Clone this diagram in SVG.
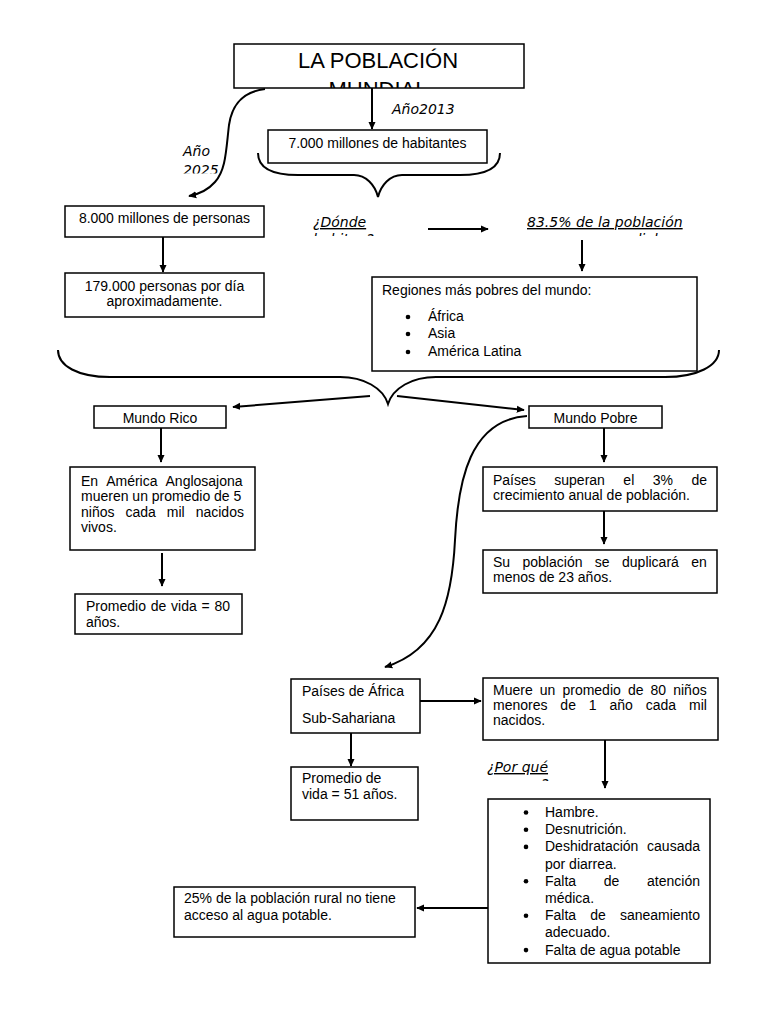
<svg xmlns="http://www.w3.org/2000/svg" width="768" height="1024" viewBox="0 0 768 1024">
<style>
.box{fill:#fff;stroke:#000;stroke-width:1.5}
.t{font-family:"Liberation Sans",Arial,sans-serif;font-size:14px;fill:#000}
.c{text-anchor:middle}
.i{font-family:"DejaVu Sans",sans-serif;font-style:italic;font-size:14px;fill:#000}
.u{text-decoration:underline}
.ln{fill:none;stroke:#000;stroke-width:2}
.br{fill:none;stroke:#000;stroke-width:2}
</style>
<defs>
<marker id="ah" viewBox="0 0 10 10" refX="9" refY="5" markerWidth="8" markerHeight="8" markerUnits="userSpaceOnUse" orient="auto">
<path d="M0,0.5 L10,5 L0,9.5 z" fill="#000"/>
</marker>
<clipPath id="cpTitle"><rect x="234" y="44" width="290" height="44"/></clipPath>
<clipPath id="cp2025"><rect x="170" y="140" width="60" height="33.5"/></clipPath>
<clipPath id="cpDonde"><rect x="300" y="210" width="130" height="26"/></clipPath>
<clipPath id="cpMundial"><rect x="520" y="210" width="180" height="26"/></clipPath>
<clipPath id="cpPorque"><rect x="480" y="755" width="80" height="26"/></clipPath>
</defs>

<g id="connectors">
<line class="ln" x1="372" y1="88" x2="372" y2="129" marker-end="url(#ah)"/>
<path class="ln" d="M265,89 C242,92 232,105 229,125 C226,150 226,170 215,182 C208,190 200,194 189,196" marker-end="url(#ah)"/>
<line class="ln" x1="163" y1="237" x2="163" y2="272" marker-end="url(#ah)"/>
<line class="ln" x1="428" y1="229" x2="488" y2="229" marker-end="url(#ah)"/>
<line class="ln" x1="582" y1="240" x2="582" y2="271" marker-end="url(#ah)"/>
<line class="ln" x1="370" y1="396" x2="233" y2="407" marker-end="url(#ah)"/>
<line class="ln" x1="397" y1="396" x2="524" y2="410" marker-end="url(#ah)"/>
<line class="ln" x1="161" y1="428" x2="161" y2="462" marker-end="url(#ah)"/>
<line class="ln" x1="162" y1="553" x2="162" y2="586" marker-end="url(#ah)"/>
<line class="ln" x1="604" y1="428" x2="604" y2="462" marker-end="url(#ah)"/>
<line class="ln" x1="604" y1="511" x2="604" y2="544" marker-end="url(#ah)"/>
<path class="ln" d="M527,416 C470,420 458,480 455,540 C452,600 440,650 385,667" marker-end="url(#ah)"/>
<line class="ln" x1="420" y1="701" x2="481" y2="701" marker-end="url(#ah)"/>
<line class="ln" x1="351" y1="733" x2="351" y2="766" marker-end="url(#ah)"/>
<line class="ln" x1="605" y1="740" x2="605" y2="788" marker-end="url(#ah)"/>
<line class="ln" x1="488" y1="908" x2="417" y2="908" marker-end="url(#ah)"/>
<path class="br" d="M258,153 C258,168 272,175 298,175 L354,175 C366,175 375,185 378,197 C381,185 390,175 402,175 L460,175 C486,175 500,168 500,153"/>
<path class="br" d="M58,350 C58,366 78,377 110,377 L340,377 C364,377 383,388 388,404 C393,388 412,377 436,377 L665,377 C697,377 719,366 719,350"/>
</g>

<g id="n-title">
<rect class="box" x="234" y="44" width="290" height="44"/>
<g clip-path="url(#cpTitle)">
<text class="t c" x="378" y="68" style="font-size:22px">LA POBLACIÓN</text>
<text class="t c" x="378" y="97" style="font-size:22px">MUNDIAL</text>
</g>
</g>

<g id="l-2013"><text class="i" x="392" y="114">Año2013</text></g>

<g id="n-7000">
<rect class="box" x="268" y="130" width="219" height="33"/>
<text class="t c" x="377.5" y="148">7.000 millones de habitantes</text>
</g>

<g id="l-2025">
<g clip-path="url(#cp2025)">
<text class="i" x="183" y="156">Año</text>
<text class="i" x="183" y="175">2025</text>
</g>
</g>

<g id="n-8000">
<rect class="box" x="65" y="206" width="199" height="31"/>
<text class="t c" x="164.5" y="223">8.000 millones de personas</text>
</g>

<g id="n-179">
<rect class="box" x="65" y="273" width="199" height="44"/>
<text class="t c" x="164.5" y="291">179.000 personas por día</text>
<text class="t c" x="164.5" y="306">aproximadamente.</text>
</g>

<g id="l-donde">
<g clip-path="url(#cpDonde)">
<text class="i u" x="313" y="227">¿Dónde </text>
<text class="i u" x="313" y="244">habitan?</text>
</g>
</g>

<g id="l-835">
<g clip-path="url(#cpMundial)">
<text class="i u" x="527" y="227">83.5% de la población</text>
<text class="i u" x="601" y="244">mundial</text>
</g>
</g>

<g id="n-regiones">
<rect class="box" x="372" y="277" width="325" height="94"/>
<text class="t" x="382" y="295">Regiones más pobres del mundo:</text>
<circle cx="408" cy="317" r="2.3"/>
<circle cx="408" cy="334" r="2.3"/>
<circle cx="408" cy="352" r="2.3"/>
<text class="t" x="428" y="321">África</text>
<text class="t" x="428" y="338">Asia</text>
<text class="t" x="428" y="356">América Latina</text>
</g>

<g id="n-rico">
<rect class="box" x="94" y="406" width="132" height="22"/>
<text class="t c" x="160" y="423">Mundo Rico</text>
</g>

<g id="n-pobre">
<rect class="box" x="529" y="406" width="133" height="22"/>
<text class="t c" x="595.5" y="423">Mundo Pobre</text>
</g>

<g id="n-america">
<rect class="box" x="70" y="467" width="185" height="83"/>
<text class="t" x="81" y="486" word-spacing="4.9">En América Anglosajona</text>
<text class="t" x="81" y="501">mueren un promedio de 5</text>
<text class="t" x="81" y="517" word-spacing="7.1">niños cada mil nacidos</text>
<text class="t" x="81" y="532">vivos.</text>
</g>

<g id="n-vida80">
<rect class="box" x="75" y="594" width="167" height="40"/>
<text class="t" x="86" y="611" word-spacing="0.9">Promedio de vida = 80</text>
<text class="t" x="86" y="627">años.</text>
</g>

<g id="n-paises">
<rect class="box" x="483" y="467" width="234" height="44"/>
<text class="t" x="493" y="485" word-spacing="14.6">Países superan el 3% de</text>
<text class="t" x="493" y="500">crecimiento anual de población.</text>
</g>

<g id="n-su">
<rect class="box" x="483" y="550" width="234" height="43"/>
<text class="t" x="493" y="567" word-spacing="8.5">Su población se duplicará en</text>
<text class="t" x="493" y="582">menos de 23 años.</text>
</g>

<g id="n-africa">
<rect class="box" x="291" y="679" width="129" height="54"/>
<text class="t" x="302" y="696">Países de África</text>
<text class="t" x="302" y="723">Sub-Sahariana</text>
</g>

<g id="n-muere">
<rect class="box" x="483" y="678" width="235" height="62"/>
<text class="t" x="493" y="695" word-spacing="3.2">Muere un promedio de 80 niños</text>
<text class="t" x="493" y="710" word-spacing="9">menores de 1 año cada mil</text>
<text class="t" x="493" y="725">nacidos.</text>
</g>

<g id="n-vida51">
<rect class="box" x="291" y="767" width="127" height="53"/>
<text class="t" x="302" y="783">Promedio de</text>
<text class="t" x="302" y="799">vida = 51 años.</text>
</g>

<g id="l-porque">
<text class="i u" x="487" y="772">¿Por qué </text>
<g clip-path="url(#cpPorque)"><text class="i" x="541" y="789">?</text></g>
</g>

<g id="n-causas">
<rect class="box" x="488" y="799" width="222" height="164"/>
<circle cx="526" cy="812.5" r="2.3"/>
<circle cx="526" cy="829.7" r="2.3"/>
<circle cx="526" cy="846.9" r="2.3"/>
<circle cx="526" cy="881.3" r="2.3"/>
<circle cx="526" cy="915.7" r="2.3"/>
<circle cx="526" cy="950.1" r="2.3"/>
<text class="t" x="545" y="817">Hambre.</text>
<text class="t" x="545" y="834.2">Desnutrición.</text>
<text class="t" x="545" y="851.4" word-spacing="4.8">Deshidratación causada</text>
<text class="t" x="545" y="868.6">por diarrea.</text>
<text class="t" x="545" y="885.8" word-spacing="23.8">Falta de atención</text>
<text class="t" x="545" y="903">médica.</text>
<text class="t" x="545" y="920.2" word-spacing="10.2">Falta de saneamiento</text>
<text class="t" x="545" y="937.4">adecuado.</text>
<text class="t" x="545" y="954.6">Falta de agua potable</text>
</g>

<g id="n-25">
<rect class="box" x="174" y="887" width="241" height="50"/>
<text class="t" x="184" y="903">25% de la población rural no tiene</text>
<text class="t" x="184" y="920">acceso al agua potable.</text>
</g>
</svg>
